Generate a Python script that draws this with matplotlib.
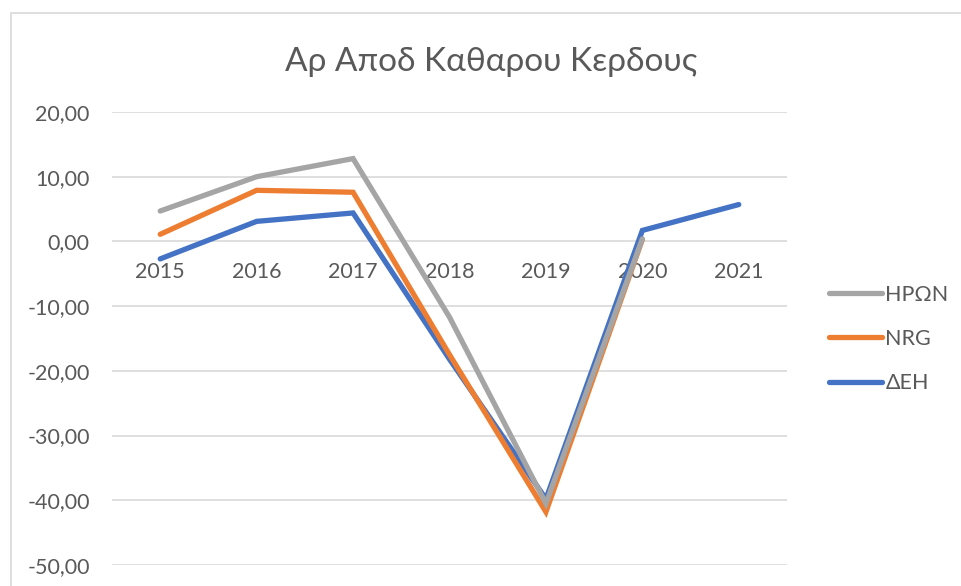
import numpy as np
import matplotlib.pyplot as plt
from matplotlib.patches import Rectangle
from matplotlib.ticker import FuncFormatter

plt.rcParams['font.family'] = ['Lato', 'DejaVu Sans']

years = ['2015', '2016', '2017', '2018', '2019', '2020', '2021']
iron = [4.7, 10.0, 12.8, -11.7, -40.5, 0.4, np.nan]     # ΗΡΩΝ
nrg = [1.1, 7.9, 7.6, -17.5, -41.8, 0.3, np.nan]        # NRG
deh = [-2.7, 3.1, 4.4, -18.2, -39.8, 1.7, 5.7]          # ΔΕΗ

txt = '#595959'
grid = '#D9D9D9'
fs = 15.5

fig = plt.figure(figsize=(9.62, 5.86), dpi=100)
ax = fig.add_axes([112/962, 1 - 565/586, 675/962, 453/586])

x = np.arange(len(years))
lw = 3.8
ax.plot(x, deh, color='#4472C4', lw=lw, solid_capstyle='round', solid_joinstyle='miter', label='ΔΕΗ', zorder=3)
ax.plot(x, nrg, color='#ED7D31', lw=lw, solid_capstyle='round', solid_joinstyle='miter', label='NRG', zorder=4)
ax.plot(x, iron, color='#A5A5A5', lw=lw, solid_capstyle='round', solid_joinstyle='miter', label='ΗΡΩΝ', zorder=5)

ax.set_xlim(-0.5, len(years) - 0.5)
ax.set_ylim(-50, 20)
ax.set_yticks(np.arange(-50, 21, 10))
ax.yaxis.set_major_formatter(FuncFormatter(lambda v, p: f'{v:.2f}'.replace('.', ',')))
ax.set_xticks(x)
ax.set_xticklabels(years)
ax.grid(axis='y', color=grid, lw=1.2, zorder=0)
for s in ax.spines.values():
    s.set_visible(False)
ax.spines['bottom'].set_position(('data', 0))
ax.tick_params(axis='both', length=0, labelsize=fs, labelcolor=txt)
ax.tick_params(axis='x', pad=15)
ax.tick_params(axis='y', pad=16)

fig.text(491/962, 1 - 62/586, 'Αρ Αποδ Καθαρου Κερδους', ha='center', va='center',
         fontsize=24, color=txt)

h, l = ax.get_legend_handles_labels()
order = [2, 1, 0]
fig.legend([h[i] for i in order], [l[i] for i in order], loc='center left',
           bbox_to_anchor=(810/962, 1 - 339/586), frameon=False, fontsize=fs,
           labelcolor=txt, handlelength=2.45, handletextpad=0.15, labelspacing=1.12)

fig.add_artist(Rectangle((11/962, -0.1), 1.1, 1 - 13/586 + 0.1, transform=fig.transFigure,
                         fill=False, edgecolor=grid, lw=1.2))

fig.savefig('out.png', dpi=100)
